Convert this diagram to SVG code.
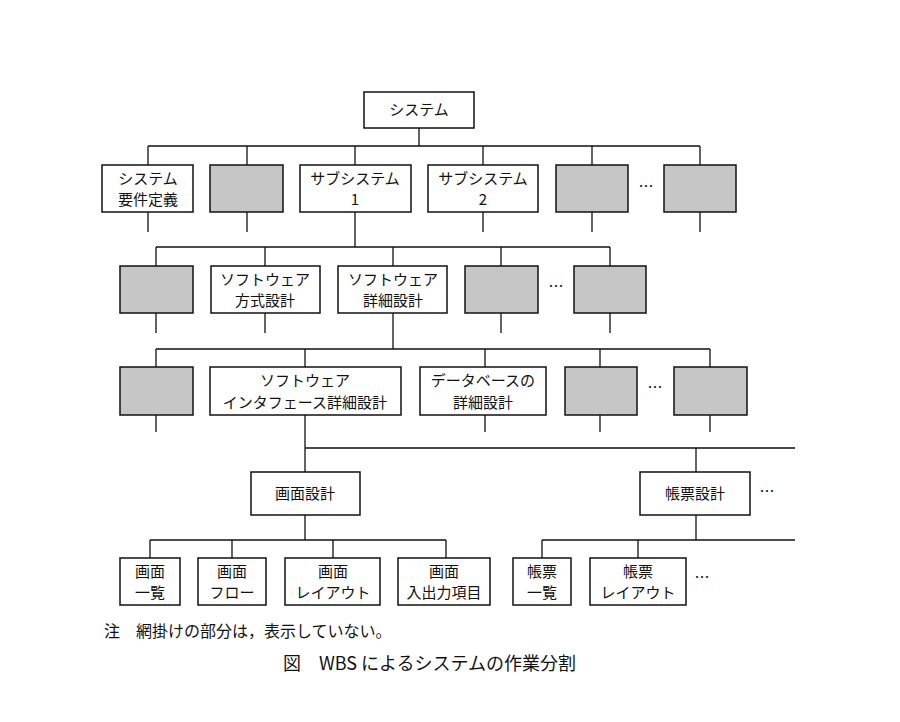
<svg xmlns="http://www.w3.org/2000/svg" width="900" height="722" viewBox="0 0 900 722">
<style>
.b{fill:#fff;stroke:#111;stroke-width:1.5}
.g{fill:#c6c6c6;stroke:#111;stroke-width:1.5}
.t{font-family:"Noto Sans CJK JP","Noto Sans",sans-serif;font-size:15px;fill:#111;text-anchor:middle}
.c{fill:none;stroke:#111;stroke-width:1.3}
.d{font-family:"Noto Sans CJK JP",sans-serif;font-size:16px;fill:#111}
</style>
<rect width="900" height="722" fill="#fff"/>
<g id="connectors">
<path class="c" d="M419 128V146M148 146H700M148 146V165M247 146V165M355 146V165M483 146V165M592 146V165M700 146V165"/>
<path class="c" d="M148 212V232M247 212V232M483 212V232M592 212V232M700 212V232M355 212V247M156 247H610M156 247V266M265 247V266M393 247V266M501 247V266M610 247V266"/>
<path class="c" d="M156 313V333M265 313V333M501 313V333M610 313V333M393 313V349M156 349H710M156 349V367M305 349V367M485 349V367M600 349V367M710 349V367"/>
<path class="c" d="M156 415V432M485 415V432M600 415V432M710 415V432M305 415V472M305 448H795M696 448V472"/>
<path class="c" d="M305 515V540M150 540H446M150 540V558M232 540V558M333 540V558M446 540V558M696 515V540M542 540H795M542 540V558M638 540V558"/>
</g>
<g id="n-system"><rect class="b" x="364" y="92" width="110" height="36"/><text class="t" x="419" y="115">システム</text></g>
<g id="n-req"><rect class="b" x="102" y="165" width="91" height="47"/><text class="t" x="148" y="184">システム</text><text class="t" x="148" y="205">要件定義</text></g>
<g id="n-g1"><rect class="g" x="210" y="165" width="73" height="47"/></g>
<g id="n-sub1"><rect class="b" x="300" y="165" width="111" height="47"/><text class="t" x="355" y="184">サブシステム</text><text class="t" x="355" y="205">1</text></g>
<g id="n-sub2"><rect class="b" x="428" y="165" width="110" height="47"/><text class="t" x="483" y="184">サブシステム</text><text class="t" x="483" y="205">2</text></g>
<g id="n-g2"><rect class="g" x="556" y="165" width="72" height="47"/></g>
<text class="t" x="646" y="192">…</text>
<g id="n-g3"><rect class="g" x="664" y="165" width="72" height="47"/></g>
<g id="n-g4"><rect class="g" x="120" y="266" width="73" height="47"/></g>
<g id="n-swarch"><rect class="b" x="211" y="266" width="109" height="47"/><text class="t" x="265" y="285">ソフトウェア</text><text class="t" x="265" y="306">方式設計</text></g>
<g id="n-swdet"><rect class="b" x="338" y="266" width="109" height="47"/><text class="t" x="393" y="285">ソフトウェア</text><text class="t" x="393" y="306">詳細設計</text></g>
<g id="n-g5"><rect class="g" x="465" y="266" width="73" height="47"/></g>
<text class="t" x="556" y="292">…</text>
<g id="n-g6"><rect class="g" x="574" y="266" width="72" height="47"/></g>
<g id="n-g7"><rect class="g" x="120" y="367" width="73" height="48"/></g>
<g id="n-if"><rect class="b" x="210" y="367" width="191" height="48"/><text class="t" x="305" y="386">ソフトウェア</text><text class="t" x="305" y="408">インタフェース詳細設計</text></g>
<g id="n-db"><rect class="b" x="420" y="367" width="126" height="48"/><text class="t" x="483" y="386">データベースの</text><text class="t" x="483" y="408">詳細設計</text></g>
<g id="n-g8"><rect class="g" x="565" y="367" width="72" height="48"/></g>
<text class="t" x="655" y="393">…</text>
<g id="n-g9"><rect class="g" x="674" y="367" width="73" height="48"/></g>
<g id="n-scr"><rect class="b" x="251" y="472" width="109" height="43"/><text class="t" x="305" y="499">画面設計</text></g>
<g id="n-rpt"><rect class="b" x="640" y="472" width="110" height="43"/><text class="t" x="695" y="499">帳票設計</text></g>
<text class="t" x="767" y="497">…</text>
<g id="n-s1"><rect class="b" x="120" y="558" width="60" height="47"/><text class="t" x="150" y="577">画面</text><text class="t" x="150" y="598">一覧</text></g>
<g id="n-s2"><rect class="b" x="198" y="558" width="68" height="47"/><text class="t" x="232" y="577">画面</text><text class="t" x="232" y="598">フロー</text></g>
<g id="n-s3"><rect class="b" x="285" y="558" width="95" height="47"/><text class="t" x="333" y="577">画面</text><text class="t" x="333" y="598">レイアウト</text></g>
<g id="n-s4"><rect class="b" x="398" y="558" width="92" height="47"/><text class="t" x="444" y="577">画面</text><text class="t" x="444" y="598">入出力項目</text></g>
<g id="n-r1"><rect class="b" x="513" y="558" width="58" height="47"/><text class="t" x="542" y="577">帳票</text><text class="t" x="542" y="598">一覧</text></g>
<g id="n-r2"><rect class="b" x="590" y="558" width="96" height="47"/><text class="t" x="638" y="577">帳票</text><text class="t" x="638" y="598">レイアウト</text></g>
<text class="t" x="702" y="583">…</text>
<text class="d" x="104" y="637">注　網掛けの部分は，表示していない。</text>
<text class="d" x="283" y="670" style="font-size:18px">図　WBS によるシステムの作業分割</text>
</svg>
